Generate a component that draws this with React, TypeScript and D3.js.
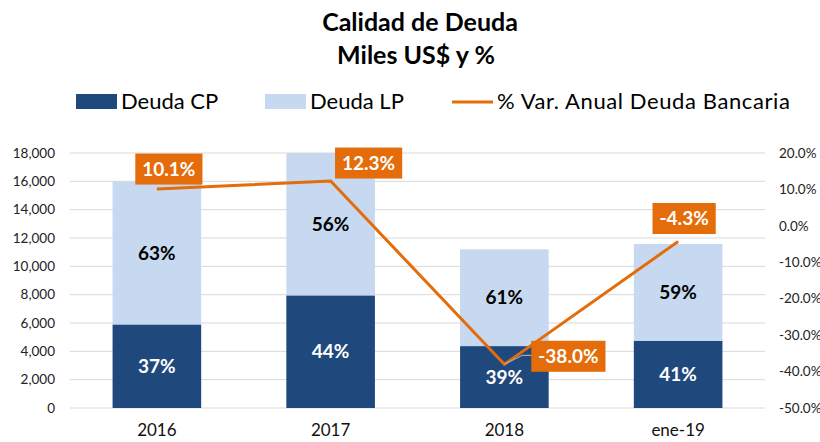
import React, { useEffect, useRef } from 'react';
import * as d3 from 'd3';

const categories = ['2016', '2017', '2018', 'ene-19'];
const deudaCP = [5900, 7950, 4370, 4750];
const deudaLP = [10100, 10050, 6830, 6830];
const varAnual = [10.1, 12.3, -38.0, -4.3];
const leftTicks = [0, 2000, 4000, 6000, 8000, 10000, 12000, 14000, 16000, 18000];
const rightTicks = [-50, -40, -30, -20, -10, 0, 10, 20];

const FONT = 'Lato, "Open Sans", sans-serif';
const DARK = '#1f497d';
const LIGHT = '#c6d9f1';
const ORANGE = '#e46c0a';

// label box offsets from each line point (centre of box)
const labelOffsets = [
  [12, -20],
  [38, -18],
  [64, -8],
  [6, -23],
];

// excel style: plain hyphen for negatives
const pct1 = (v: number) => d3.format('.1f')(v).replace('\u2212', '-') + '%';

const App = () => {
  const ref = useRef<SVGSVGElement>(null);

  useEffect(() => {
    const svg = d3.select(ref.current);
    svg.selectAll('*').remove();

    const margin = { top: 153, right: 55, bottom: 34, left: 70 };
    const W = 820, H = 442;

    const x = d3.scaleBand()
      .domain(categories)
      .range([margin.left, W - margin.right])
      .paddingInner(0.49)
      .paddingOuter(0.245);

    const y = d3.scaleLinear().domain([0, 18000]).range([H - margin.bottom, margin.top]);
    const y2 = d3.scaleLinear().domain([-50, 20]).range([H - margin.bottom, margin.top]);

    // title
    svg.append('text')
      .attr('x', 420).attr('y', 31)
      .attr('text-anchor', 'middle')
      .attr('font-family', FONT).attr('font-weight', 'bold').attr('font-size', 25)
      .text('Calidad de Deuda');
    svg.append('text')
      .attr('x', 416).attr('y', 64)
      .attr('text-anchor', 'middle')
      .attr('font-family', FONT).attr('font-weight', 'bold').attr('font-size', 25)
      .text('Miles US$ y %');

    // legend
    const lg = svg.append('g').attr('font-family', FONT).attr('font-size', 22);
    lg.append('rect').attr('x', 76).attr('y', 94).attr('width', 41).attr('height', 15).attr('fill', DARK);
    lg.append('text').attr('x', 121).attr('y', 109).text('Deuda CP');
    lg.append('rect').attr('x', 265).attr('y', 94).attr('width', 41).attr('height', 15).attr('fill', LIGHT);
    lg.append('text').attr('x', 310).attr('y', 109).text('Deuda LP');
    lg.append('line').attr('x1', 452).attr('x2', 493).attr('y1', 102).attr('y2', 102)
      .attr('stroke', ORANGE).attr('stroke-width', 3);
    lg.append('text').attr('x', 497).attr('y', 109).attr('letter-spacing', 0.6)
      .text('% Var. Anual Deuda Bancaria');

    // gridlines
    svg.append('g')
      .selectAll('line')
      .data(leftTicks)
      .enter().append('line')
      .attr('x1', margin.left).attr('x2', W - margin.right)
      .attr('y1', d => y(d)).attr('y2', d => y(d))
      .attr('stroke', '#d9d9d9').attr('stroke-width', 1);

    // left axis labels
    svg.append('g')
      .selectAll('text')
      .data(leftTicks)
      .enter().append('text')
      .attr('x', 55).attr('y', d => y(d))
      .attr('dy', '0.35em')
      .attr('text-anchor', 'end')
      .attr('font-family', FONT).attr('font-size', 13.5)
      .attr('fill', '#222')
      .text(d => d3.format(',')(d));

    // right axis labels
    svg.append('g')
      .selectAll('text')
      .data(rightTicks)
      .enter().append('text')
      .attr('x', 779).attr('y', d => y2(d))
      .attr('dy', '0.35em')
      .attr('font-family', FONT).attr('font-size', 13.5)
      .attr('fill', '#222')
      .text(d => pct1(d));

    // x labels
    svg.append('g')
      .selectAll('text')
      .data(categories)
      .enter().append('text')
      .attr('x', d => x(d)! + x.bandwidth() / 2).attr('y', 436)
      .attr('text-anchor', 'middle')
      .attr('font-family', FONT).attr('font-size', 17)
      .attr('fill', '#111')
      .text(d => d);

    const rows = categories.map((c, i) => ({
      cat: c, cp: deudaCP[i], lp: deudaLP[i], total: deudaCP[i] + deudaLP[i], v: varAnual[i],
    }));

    // bars
    const bars = svg.append('g');
    bars.selectAll('.cp').data(rows).enter().append('rect')
      .attr('x', d => x(d.cat)!).attr('width', x.bandwidth())
      .attr('y', d => y(d.cp)).attr('height', d => y(0) - y(d.cp))
      .attr('fill', DARK);
    bars.selectAll('.lp').data(rows).enter().append('rect')
      .attr('x', d => x(d.cat)!).attr('width', x.bandwidth())
      .attr('y', d => y(d.total)).attr('height', d => y(d.cp) - y(d.total))
      .attr('fill', LIGHT);

    // bar labels
    const fmtPct = d3.format('.0%');
    bars.selectAll('.cpl').data(rows).enter().append('text')
      .attr('x', d => x(d.cat)! + x.bandwidth() / 2)
      .attr('y', d => (y(0) + y(d.cp)) / 2)
      .attr('dy', '0.35em').attr('text-anchor', 'middle')
      .attr('font-family', FONT).attr('font-weight', 'bold').attr('font-size', 19)
      .attr('fill', '#fff')
      .text(d => fmtPct(d.cp / d.total));
    bars.selectAll('.lpl').data(rows).enter().append('text')
      .attr('x', d => x(d.cat)! + x.bandwidth() / 2)
      .attr('y', d => (y(d.cp) + y(d.total)) / 2)
      .attr('dy', '0.35em').attr('text-anchor', 'middle')
      .attr('font-family', FONT).attr('font-weight', 'bold').attr('font-size', 19)
      .attr('fill', '#000')
      .text(d => fmtPct(d.lp / d.total));

    // line
    const line = d3.line<typeof rows[0]>()
      .x(d => x(d.cat)! + x.bandwidth() / 2)
      .y(d => y2(d.v));
    svg.append('path').datum(rows)
      .attr('d', line)
      .attr('fill', 'none').attr('stroke', ORANGE).attr('stroke-width', 3);

    // leader line for 2018 label
    const p2 = rows[2];
    const px = x(p2.cat)! + x.bandwidth() / 2, py = y2(p2.v);
    svg.append('polyline')
      .attr('points', `${px},${py} ${px + 18},${py - 9} ${px + 28},${py - 9}`)
      .attr('fill', 'none').attr('stroke', '#a6a6a6').attr('stroke-width', 1.2);

    // line labels
    const lbl = svg.append('g');
    rows.forEach((d, i) => {
      const cx = x(d.cat)! + x.bandwidth() / 2 + labelOffsets[i][0];
      const cy = y2(d.v) + labelOffsets[i][1];
      const g = lbl.append('g');
      const rect = g.append('rect').attr('fill', ORANGE);
      const t = g.append('text')
        .attr('x', cx).attr('y', cy)
        .attr('dy', '0.35em').attr('text-anchor', 'middle')
        .attr('font-family', FONT).attr('font-weight', 'bold').attr('font-size', 19)
        .attr('fill', '#fff')
        .text(pct1(d.v));
      const w = (t.node() as SVGTextElement).getComputedTextLength() + 14;
      rect.attr('x', cx - w / 2).attr('y', cy - 15.5).attr('width', w).attr('height', 31);
    });
  }, []);

  return (
    <svg
      ref={ref}
      width={820}
      height={442}
      style={{ position: 'absolute', left: 0, top: 0, overflow: 'visible' }}
    />
  );
};

export default App;
